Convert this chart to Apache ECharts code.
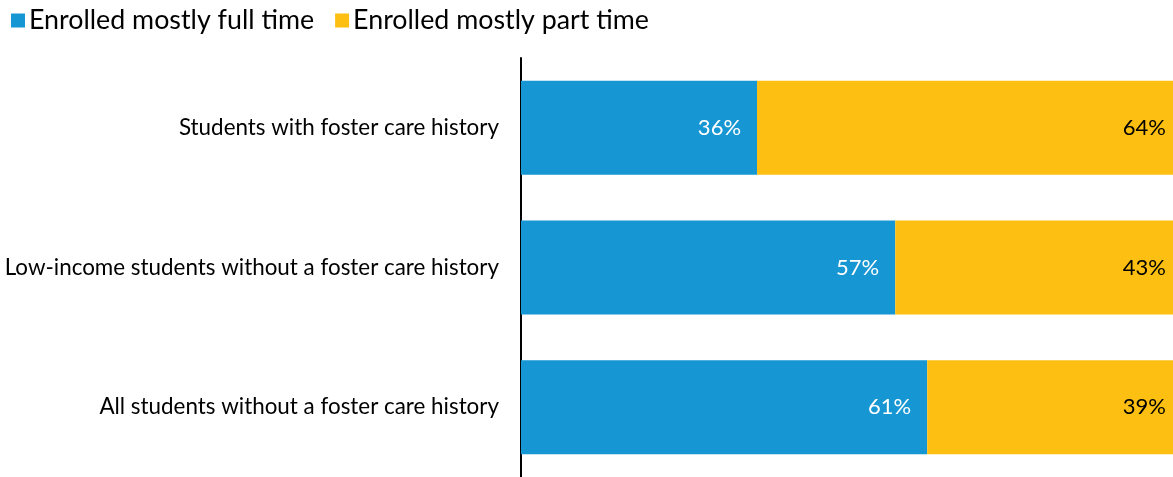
<!DOCTYPE html>
<html>
<head>
<meta charset="utf-8">
<script src="https://cdn.jsdelivr.net/npm/echarts@6/dist/echarts.min.js"></script>
<style>
  html, body { margin: 0; padding: 0; background: #fff; }
  #chart { width: 1173px; height: 477px; }
</style>
</head>
<body>
<div id="chart"></div>
<script>
const categories = [
  "Students with foster care history",
  "Low-income students without a foster care history",
  "All students without a foster care history"
];
// bar lengths as drawn in the picture (the printed labels are rounded)
const fullTime = [36.2, 57.4, 62.3];
const partTime = [63.8, 42.6, 37.7];
const fullLabels = ["36%", "57%", "61%"];
const partLabels = ["64%", "43%", "39%"];

const myChart = echarts.init(document.getElementById("chart"));
const option = {
  textStyle: { fontFamily: "Lato" },
  legend: {
    left: 6,
    top: 2,
    itemWidth: 14,
    itemHeight: 14,
    itemGap: 21,
    icon: "rect",
    textStyle: { fontSize: 26.8, color: "#000", fontFamily: "Lato", padding: [0, 0, 0, -1] },
    data: ["Enrolled mostly full time", "Enrolled mostly part time"]
  },
  grid: { left: 521, right: 0, top: 58, bottom: -1, containLabel: false },
  xAxis: {
    type: "value",
    min: 0,
    max: 100,
    show: false
  },
  yAxis: {
    type: "category",
    inverse: true,
    data: categories,
    axisTick: { show: false },
    axisLine: { show: true, lineStyle: { color: "#000", width: 2 } },
    axisLabel: { color: "#000", fontSize: 22.4, margin: 22, fontFamily: "Lato" }
  },
  series: [
    {
      name: "Enrolled mostly full time",
      type: "bar",
      stack: "total",
      barWidth: 94,
      data: fullTime,
      itemStyle: { color: "#1696d2" },
      label: {
        show: true,
        position: "insideRight",
        distance: 16,
        color: "#fff",
        fontSize: 22,
        fontFamily: "Lato",
        formatter: p => fullLabels[p.dataIndex]
      }
    },
    {
      name: "Enrolled mostly part time",
      type: "bar",
      stack: "total",
      barWidth: 94,
      data: partTime,
      itemStyle: { color: "#fdbf11" },
      label: {
        show: true,
        position: "insideRight",
        distance: 7,
        color: "#000",
        fontSize: 22,
        fontFamily: "Lato",
        formatter: p => partLabels[p.dataIndex]
      }
    }
  ]
};
myChart.setOption(option);
</script>
</body>
</html>
